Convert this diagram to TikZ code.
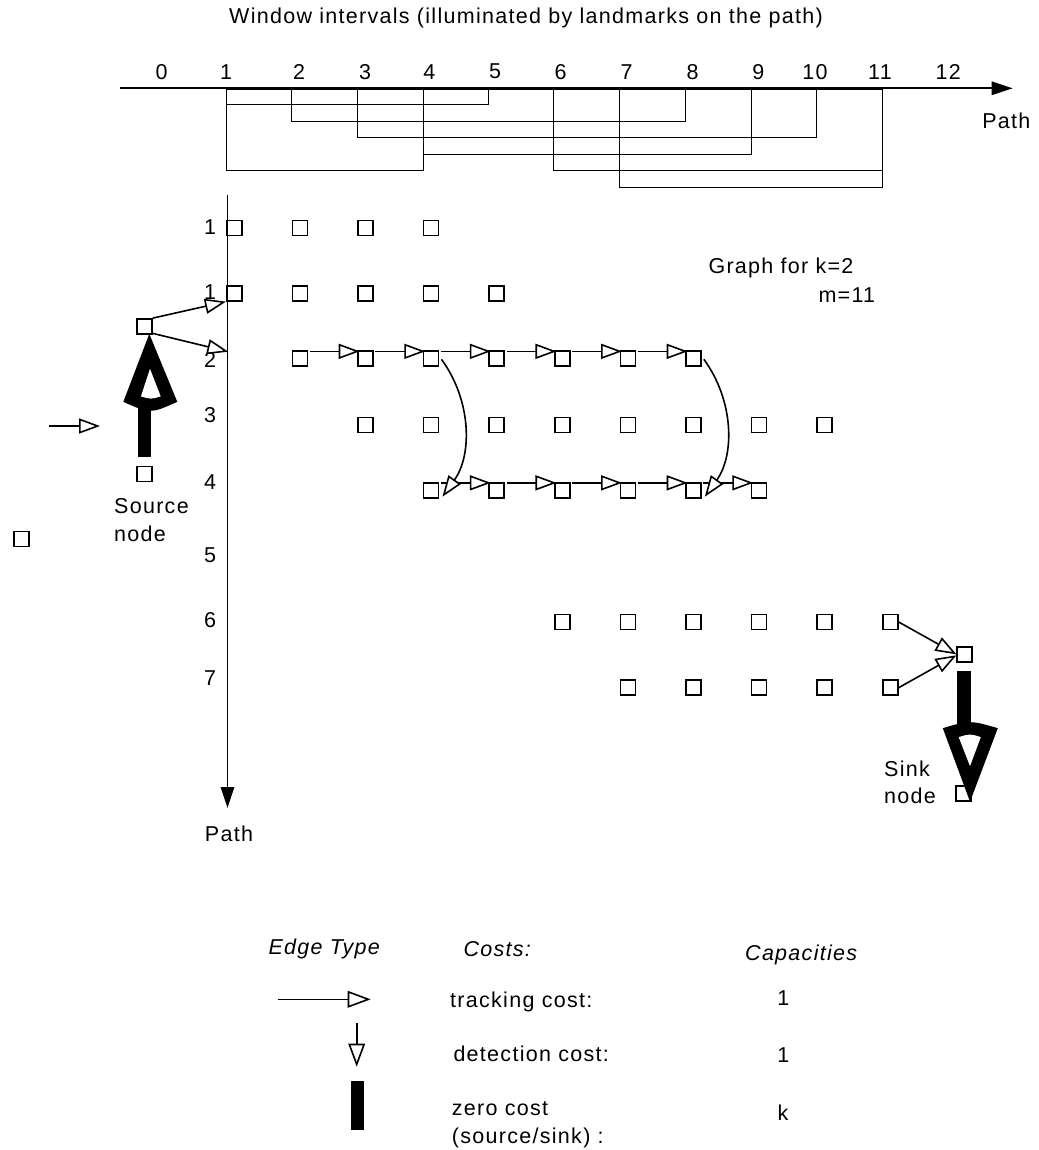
\documentclass[tikz,border=0pt]{standalone}
\usepackage{fontspec}
\setmainfont{Liberation Sans}[LetterSpace=6]
\usetikzlibrary{arrows.meta,calc}
\begin{document}
\begin{tikzpicture}[x=1pt,y=-1pt,
  every node/.style={font=\fontsize{21.5}{25}\selectfont, inner sep=0pt},
  sq/.style={draw, line width=1.6pt, minimum size=15.1pt, inner sep=0pt},
  ln/.style={line width=1.8pt},
  track/.style={line width=1.6pt, -{Triangle[fill=white,length=21pt,width=15pt]}},
  ltrack/.style={line width=1.6pt, -{Triangle[fill=white,length=23pt,width=16.6pt]}},
  axisarrow/.style={line width=1.7pt, -{Triangle[length=21pt,width=13.4pt]}},
  lbl/.style={anchor=base west},
  itl/.style={anchor=base west, font=\fontsize{21.5}{25}\selectfont\itshape},
]
\useasboundingbox (0,0) rectangle (1038,1150);

% title
\node[lbl] (title) at (229,24) {Window intervals (illuminated by landmarks on the path)};

% top axis
\foreach \t/\x in {0/161.7,1/226,2/299,3/365,4/429.3,5/495,6/560.7,7/626.7,8/692.7,9/758.3,10/815,11/880,12/948.3}
  \node (t\t) at (\x,71.7) {\t};
\coordinate (tax0) at (120,88.3);
\coordinate (tax1) at (1012.7,88.3);
\draw[axisarrow] (tax0) -- (tax1);
\node (pathr) at (1006.3,121) {Path};

% window intervals
\foreach \a/\b/\yy in {226.5/488.5/104.5, 291.5/685.5/121.5, 357.5/816.5/137.5, 423.5/751.5/154.5, 226.5/423.5/170.5, 553.5/882.5/170.5, 619.5/882.5/187.5}
  \draw[ln] (\a,89.5) rectangle (\b,\yy);

% left axis
\coordinate (lax0) at (227.5,195);
\coordinate (lax1) at (227.5,808);
\draw[axisarrow] (lax0) -- (lax1);
\node (pathb) at (229,834) {Path};

\foreach \n/\yy/\nm in {1/226.7/r1, 1/291.7/r1b, 2/360/r2, 3/415/r3, 4/481.7/r4, 5/555/r5, 6/620/r6, 7/678/r7}
  \node (\nm) at (210,\yy) {\n};

% grid nodes
\foreach \cc in {1,...,4}  \node[sq] (a-\cc) at ({234.3+(\cc-1)*65.6},228) {};
\foreach \cc in {1,...,5}  \node[sq] (b-\cc) at ({234.3+(\cc-1)*65.6},293.3) {};
\foreach \cc in {2,...,8}  \node[sq] (c-\cc) at ({234.3+(\cc-1)*65.6},358.7) {};
\foreach \cc in {3,...,10} \node[sq] (d-\cc) at ({234.3+(\cc-1)*65.6},425) {};
\foreach \cc in {4,...,9}  \node[sq] (e-\cc) at ({234.3+(\cc-1)*65.6},490.7) {};
\foreach \cc in {6,...,11} \node[sq] (f-\cc) at ({234.3+(\cc-1)*65.6},622) {};
\foreach \cc in {7,...,11} \node[sq] (g-\cc) at ({234.3+(\cc-1)*65.6},687.7) {};

% source / sink / stray
\node[sq] (src) at (144.3,326.5) {};
\node[sq] (srcb) at (144.3,474) {};
\node[sq] (snk) at (964.3,654.3) {};
\node[sq] (snkb) at (963.3,793.5) {};
\node[sq] (stray) at (21.3,539) {};

% tracking arrows
\foreach \i/\j in {2/3,3/4,4/5,5/6,6/7,7/8}
  \draw[track] ($(c-\i.north east)+(1.5,1)$) -- ($(c-\j.north west)+(2.5,1)$);
\foreach \i/\j in {4/5,5/6,6/7,7/8,8/9}
  \draw[track] ($(e-\i.north east)+(1.5,0.5)$) -- ($(e-\j.north west)+(2.5,0.5)$);
\draw[track] ($(c-4.east)+(2,0.6)$) .. controls +(30,41) and +(30,-42) .. ($(e-4.east)+(3,6)$);
\draw[track] ($(c-8.east)+(2,0.6)$) .. controls +(30,41) and +(30,-42) .. ($(e-8.east)+(3,6)$);

\coordinate (ax2) at (228.3,351.7);
\draw[track] (src.north east) -- (b-1.south west);
\draw[track] ($(src.south east)+(0,-1.5)$) -- (ax2);
\draw[track] (f-11.east) -- ($(snk.west)+(0.5,0)$);
\draw[track] (g-11.east) -- ($(snk.west)+(0.5,1)$);

\coordinate (sa1) at (49.3,426);
\coordinate (sa2) at (100,426);
\draw[track] (sa1) -- (sa2);

% thick source arrow
\draw[line width=12.7pt] ($(srcb.north)+(0.4,-8.7)$) -- ($(src.south)+(0.4,70)$);
\begin{scope}[shift={(src.south)}]
  \fill (5,-1) -- (-21,67) .. controls (6,79) .. (33,67) -- cycle;
  \fill[white] (5.7,34) -- (-3.4,61.5) .. controls (6.5,64.5) .. (16.4,61.5) -- cycle;
\end{scope}

% thick sink arrow
\draw[line width=13.3pt] ($(snk.south)+(-0.3,8)$) -- ($(snk.south)+(-0.3,70)$);
\begin{scope}[shift={(snk.south)}]
  \fill (5.7,139.05) -- (-21.5,65.5) .. controls (5.7,57.5) .. (33.5,65.5) -- cycle;
  \fill[white] (5.7,103.5) -- (-5.6,74.5) .. controls (5.7,71) .. (16.5,74.5) -- cycle;
\end{scope}

% labels
\node[lbl] (srcl1) at (114,513.3) {Source};
\node[lbl] (srcl2) at (114,541.7) {node};
\node[lbl] (snkl1) at (884,776) {Sink};
\node[lbl] (snkl2) at (884,803.3) {node};
\node[lbl] (gk) at (708.3,273.3) {Graph for k=2};
\node[lbl] (gm) at (818.3,302.7) {m=11};

% legend
\node[itl] (let) at (268.3,954.3) {Edge Type};
\node[itl] (lco) at (463.3,956) {Costs:};
\node[itl] (lca) at (745,960.7) {Capacities};
\node[lbl] (ltc) at (450,1007.3) {tracking cost:};
\node[lbl] (ldc) at (453.3,1061.7) {detection cost:};
\node[lbl] (lzc) at (451.7,1115) {zero cost};
\node[lbl] (lss) at (451.7,1143.4) {(source/sink) :};
\node (lc1) at (783.3,998.3) {1};
\node (lc2) at (783.3,1055.5) {1};
\node[anchor=base] (lc3) at (783,1120) {k};

\coordinate (lt1) at (278.3,999.3);
\coordinate (lt2) at (370.7,999.3);
\draw[ltrack] (lt1) -- (lt2);
\coordinate (ld1) at (356.7,1023.3);
\coordinate (ld2) at (356.7,1066.7);
\draw[ltrack] (ld1) -- (ld2);
\fill (351,1081) rectangle (364,1130);
\end{tikzpicture}
\end{document}
